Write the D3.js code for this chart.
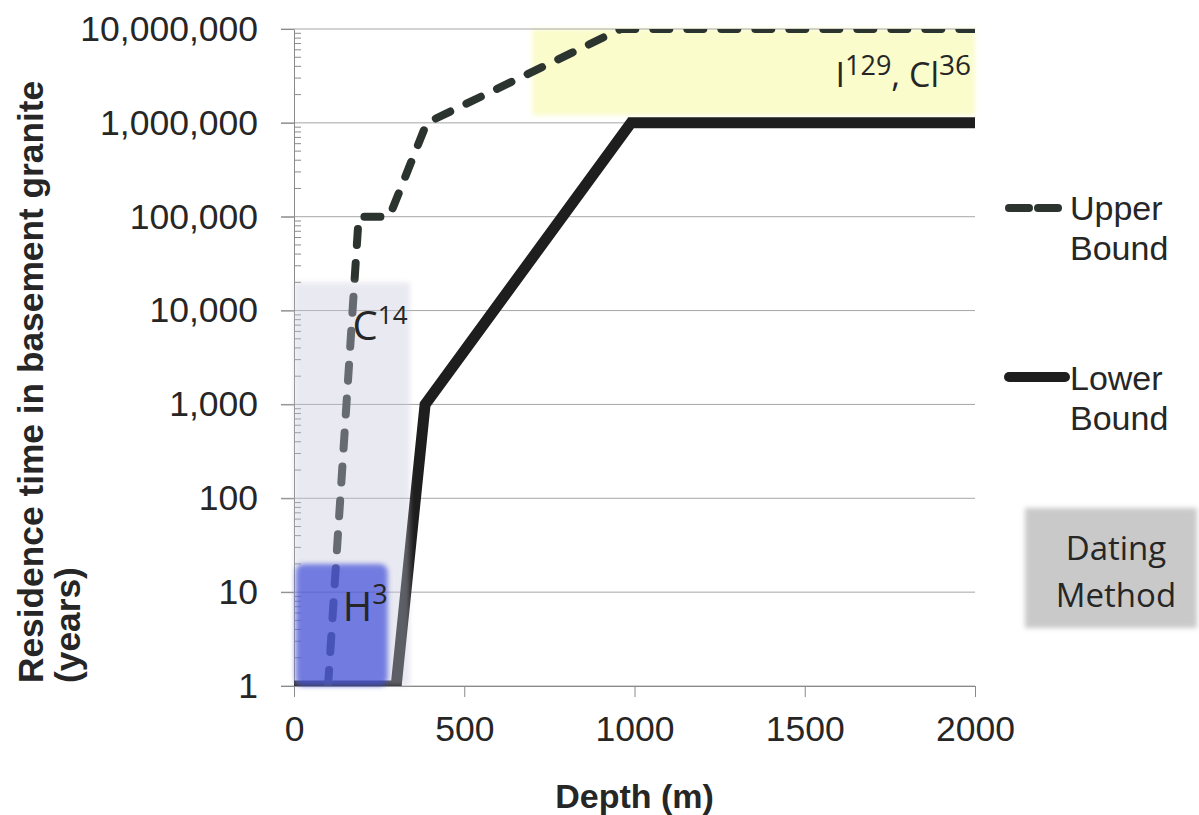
<!DOCTYPE html>
<html lang="en">
<head>
    <meta charset="UTF-8">
    <title>Residence time vs depth</title>
    <script src="https://d3js.org/d3.v7.min.js"></script>
    <style>
        body { margin: 0; background: #fff; }
        .tick text { font-family: "Liberation Sans", Arial, sans-serif; font-size: 35.5px; fill: #262626; }
        .axis path, .axis line { stroke: #8a8a8a; }
        .label { font-family: "Open Sans", sans-serif; fill: #262626; }
    </style>
</head>
<body>
    <div id="chart"></div>
    <script>
        // Data
        const depthTicks = [0, 500, 1000, 1500, 2000];
        const yearTicks = [1, 10, 100, 1000, 10000, 100000, 1000000, 10000000];

        const upperDepth = [100, 190, 280, 390, 960, 2000];
        const upperYears = [1, 100000, 100000, 1000000, 10000000, 10000000];

        const lowerDepth = [0, 300, 385, 990, 2000];
        const lowerYears = [1, 1, 1000, 1000000, 1000000];

        // dating method bands
        const methodNames = ["C14", "H3", "I129, Cl36"];
        const methodDepthFrom = [0, 5, 700];
        const methodDepthTo = [340, 275, 2000];
        const methodYearsFrom = [1, 1, 1200000];
        const methodYearsTo = [20000, 20, 10000000];

        const width = 1199;
        const height = 815;

        const svg = d3.select("#chart")
            .append("svg")
            .attr("width", width)
            .attr("height", height);

        const x = d3.scaleLinear().domain([0, 2000]).range([294, 975]);
        const y = d3.scaleLog().domain([1, 1e7]).range([686, 29]);

        const defs = svg.append("defs");
        defs.append("filter").attr("id", "soft")
            .attr("x", "-10%").attr("y", "-10%").attr("width", "120%").attr("height", "120%")
            .append("feGaussianBlur").attr("stdDeviation", 2.5);
        defs.append("clipPath").attr("id", "plot")
            .append("rect")
            .attr("x", x(0)).attr("y", y(1e7))
            .attr("width", x(2000) - x(0)).attr("height", y(1) - y(1e7));

        const band = i => ({
            x: x(methodDepthFrom[i]),
            y: y(methodYearsTo[i]),
            w: x(methodDepthTo[i]) - x(methodDepthFrom[i]),
            h: y(methodYearsFrom[i]) - y(methodYearsTo[i])
        });

        // yellow band sits under the lines
        const yb = band(2);
        svg.append("rect")
            .attr("x", yb.x).attr("y", yb.y).attr("width", yb.w).attr("height", yb.h)
            .attr("fill", "#fafccb")
            .attr("filter", "url(#soft)");

        // gridlines
        svg.append("g")
            .selectAll("line")
            .data(yearTicks)
            .enter().append("line")
            .attr("x1", x(0) - 13).attr("x2", x(2000))
            .attr("y1", d => y(d)).attr("y2", d => y(d))
            .attr("stroke", "#a6a6a6")
            .attr("stroke-width", 1);

        // minor ticks (inside)
        const minor = d3.range(0, 7).flatMap(k => d3.range(2, 10).map(m => m * Math.pow(10, k)));
        svg.append("g")
            .selectAll("line")
            .data(minor)
            .enter().append("line")
            .attr("x1", x(0)).attr("x2", x(0) + 7)
            .attr("y1", d => y(d)).attr("y2", d => y(d))
            .attr("stroke", "#8a8a8a");

        // axes
        svg.append("g")
            .attr("class", "axis")
            .attr("transform", `translate(${x(0)},0)`)
            .call(d3.axisLeft(y).tickValues(yearTicks).tickFormat(d3.format(",")).tickSize(13).tickPadding(23).tickSizeOuter(0));

        svg.append("g")
            .attr("class", "axis")
            .attr("transform", `translate(0,${y(1)})`)
            .call(d3.axisBottom(x).tickValues(depthTicks).tickFormat(d3.format("d")).tickSize(11).tickPadding(19).tickSizeOuter(0));

        // lines
        const line = d3.line().x(d => x(d[0])).y(d => y(d[1]));
        const plot = svg.append("g").attr("clip-path", "url(#plot)");

        plot.append("path")
            .datum(lowerDepth.map((d, i) => [d, lowerYears[i]]))
            .attr("d", line)
            .attr("fill", "none")
            .attr("stroke", "#1e1e1e")
            .attr("stroke-width", 11)
            .attr("stroke-linejoin", "miter");

        plot.append("path")
            .datum(upperDepth.map((d, i) => [d, upperYears[i]]))
            .attr("d", line)
            .attr("fill", "none")
            .attr("stroke", "#2c3430")
            .attr("stroke-width", 8)
            .attr("stroke-linecap", "round")
            .attr("stroke-dasharray", "16,18");

        // C14 and H3 bands over the lines
        const cb = band(0);
        svg.append("rect")
            .attr("x", cb.x).attr("y", cb.y).attr("width", cb.w).attr("height", cb.h)
            .attr("fill", "#c6c6dc").attr("opacity", 0.38)
            .attr("filter", "url(#soft)");

        const hb = band(1);
        svg.append("rect")
            .attr("x", hb.x).attr("y", hb.y).attr("width", hb.w).attr("height", hb.h)
            .attr("rx", 8)
            .attr("fill", "#3a48d8").attr("opacity", 0.68)
            .attr("filter", "url(#soft)");

        // band labels
        const sup = (sel, base, s, size) => {
            sel.append("tspan").text(base);
            sel.append("tspan").attr("font-size", size).attr("dy", -size * 0.62).text(s);
        };
        const c14 = svg.append("text").attr("class", "label")
            .attr("x", x(172)).attr("y", y(20000) + 58).attr("font-size", 40);
        sup(c14, "C", "14", 26);

        const h3 = svg.append("text").attr("class", "label")
            .attr("x", x(143)).attr("y", y(20) + 57).attr("font-size", 40);
        sup(h3, "H", "3", 27);

        const icl = svg.append("text").attr("class", "label")
            .attr("x", x(2000) - 4).attr("y", y(1e7) + 58).attr("font-size", 34)
            .attr("text-anchor", "end");
        icl.append("tspan").text("I");
        icl.append("tspan").attr("font-size", 27).attr("dy", -12).text("129");
        icl.append("tspan").attr("dy", 12).text(", Cl");
        icl.append("tspan").attr("font-size", 28).attr("dy", -12).text("36");

        // axis titles
        svg.append("text")
            .attr("transform", `translate(${(x(0) + x(2000)) / 2},808)`)
            .attr("text-anchor", "middle")
            .attr("font-family", "Liberation Sans, Arial, sans-serif")
            .attr("font-weight", "bold").attr("font-size", 34).attr("fill", "#262626")
            .text("Depth (m)");

        const ytitle = ["Residence time in basement granite", "(years)"];
        svg.append("g")
            .selectAll("text")
            .data(ytitle)
            .enter().append("text")
            .attr("transform", (d, i) => `translate(${43 + i * 37},683) rotate(-90)`)
            .attr("font-family", "Liberation Sans, Arial, sans-serif")
            .attr("font-weight", "bold").attr("font-size", 35.3).attr("fill", "#262626")
            .text(d => d);

        // legend
        const legend = svg.append("g").attr("transform", "translate(1005,0)");
        legend.append("line")
            .attr("x1", 4).attr("x2", 60).attr("y1", 208).attr("y2", 208)
            .attr("stroke", "#2c3430").attr("stroke-width", 8)
            .attr("stroke-linecap", "round").attr("stroke-dasharray", "20,9");
        legend.append("line")
            .attr("x1", 4).attr("x2", 60).attr("y1", 377).attr("y2", 377)
            .attr("stroke", "#1e1e1e").attr("stroke-width", 10)
            .attr("stroke-linecap", "round");
        const legendText = [["Upper", "Bound"], ["Lower", "Bound"]];
        legendText.forEach((lines, i) => {
            legend.append("g")
                .selectAll("text")
                .data(lines)
                .enter().append("text")
                .attr("x", 65)
                .attr("y", (d, j) => 220 + i * 170 + j * 40)
                .attr("font-family", "Liberation Sans, Arial, sans-serif")
                .attr("font-size", 34).attr("fill", "#262626")
                .text(d => d);
        });

        // "Dating Method" key box
        svg.append("rect")
            .attr("x", 1025).attr("y", 508).attr("width", 172).attr("height", 120)
            .attr("fill", "#c9c9c9")
            .attr("filter", "url(#soft)");
        svg.append("g")
            .selectAll("text")
            .data(["Dating", "Method"])
            .enter().append("text")
            .attr("class", "label")
            .attr("x", 1116).attr("y", (d, i) => 560 + i * 47)
            .attr("text-anchor", "middle")
            .attr("font-size", 33)
            .text(d => d);
    </script>
</body>
</html>
